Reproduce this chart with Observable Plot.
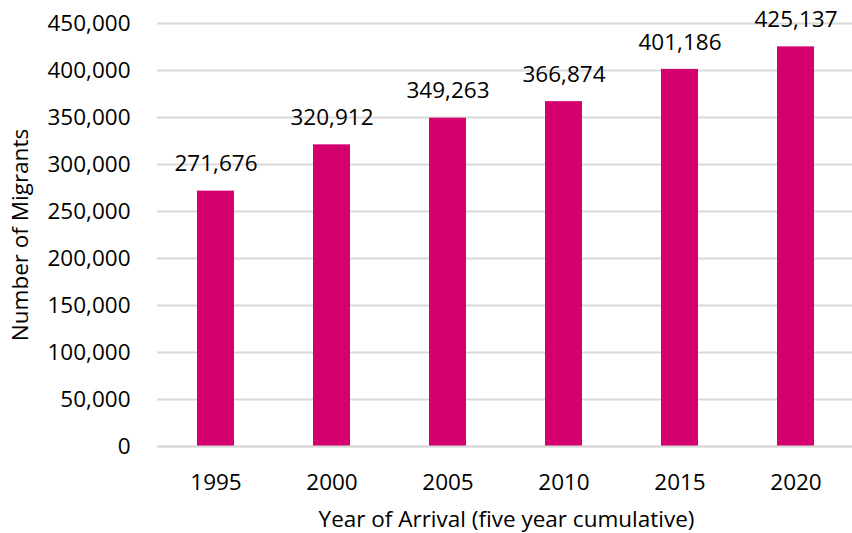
<!DOCTYPE html>
<html>
<head>
<meta charset="utf-8">
<script src="https://cdn.jsdelivr.net/npm/d3@7"></script>
<script src="https://cdn.jsdelivr.net/npm/@observablehq/plot@0.6"></script>
<style>
  html, body { margin: 0; padding: 0; background: #fff; overflow: hidden; }
  #chart svg { display: block; }
</style>
</head>
<body>
<div id="chart"></div>
<script>
const years = ["1995", "2000", "2005", "2010", "2015", "2020"];
const migrants = [271676, 320912, 349263, 366874, 401186, 425137];
const yTicks = [0, 50000, 100000, 150000, 200000, 250000, 300000, 350000, 400000, 450000];

const data = years.map((y, i) => ({year: y, value: migrants[i]}));
const fmt = d3.format(",");
const FONT = "'Open Sans', sans-serif";

const chart = Plot.plot({
  width: 852,
  height: 533,
  marginLeft: 157,
  marginRight: -3,
  marginTop: 23,
  marginBottom: 87,
  style: {fontFamily: FONT, fontSize: "23px", color: "#000", background: "#fff"},
  x: {domain: years, paddingInner: 0.68, paddingOuter: 0.34, label: null},
  y: {domain: [0, 450000], label: null},
  marks: [
    Plot.gridY(yTicks, {stroke: "#d9d9d9", strokeOpacity: 1, strokeWidth: 2}),
    Plot.barY(data, {x: "year", y: "value", fill: "#d5006f"}),
    Plot.ruleY([0], {stroke: "#d9d9d9", strokeWidth: 2}),
    Plot.axisY(yTicks, {tickSize: 0, tickPadding: 27, tickFormat: fmt, fill: "#000", fontSize: 22.5,
      label: "Number of Migrants", labelAnchor: "center", labelArrow: "none", labelOffset: 145}),
    Plot.axisX({tickSize: 0, tickPadding: 28, fill: "#000", fontSize: 22.5,
      label: "Year of Arrival (five year cumulative)", labelAnchor: "center", labelArrow: "none", labelOffset: 80}),
    Plot.text(data, {x: "year", y: "value", text: d => fmt(d.value), dy: -27, fill: "#000", fontSize: 22.5})
  ]
});
document.getElementById("chart").appendChild(chart);
</script>
</body>
</html>
